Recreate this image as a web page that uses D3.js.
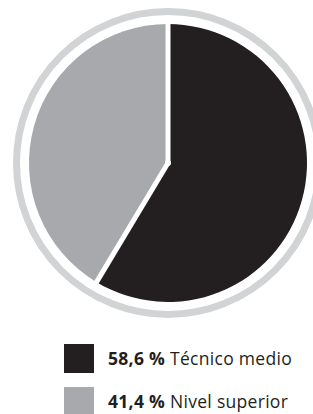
<!DOCTYPE html>
<html><head><meta charset="utf-8">
<script src="https://cdn.jsdelivr.net/npm/d3@7"></script>
<style>html,body{margin:0;padding:0;background:#fff;overflow:hidden}</style>
</head><body><svg id="c" width="313" height="414"></svg>
<script>
const categories = ["Técnico medio", "Nivel superior"];
const values = [58.6, 41.4];
const valueLabels = ["58,6 %", "41,4 %"];
const colors = ["#231f20", "#a7a9ac"];

const svg = d3.select("#c");
const cx = 168, cy = 163, r = 139;
const g = svg.append("g").attr("transform", `translate(${cx},${cy})`);

g.append("circle").attr("r", 151.5).attr("fill", "none")
  .attr("stroke", "#d1d3d4").attr("stroke-width", 7);

const pie = d3.pie().sort(null).value(d => d)(values);
const arc = d3.arc().innerRadius(0).outerRadius(r);
g.selectAll("path.s").data(pie).join("path").attr("class", "s")
  .attr("d", arc).attr("fill", (d, i) => colors[i]);
g.selectAll("line.sep").data(pie).join("line").attr("class", "sep")
  .attr("x1", 0).attr("y1", 0)
  .attr("x2", d => Math.sin(d.startAngle) * (r + 4))
  .attr("y2", d => -Math.cos(d.startAngle) * (r + 4))
  .attr("stroke", "#fff").attr("stroke-width", 5);
g.append("circle").attr("r", 3).attr("fill", "#fff");

const leg = svg.append("g");
const rowY = d3.scalePoint().domain(categories).range([344, 387]);
const row = leg.selectAll("g").data(categories).join("g")
  .attr("transform", d => `translate(64,${rowY(d)})`);
row.append("rect").attr("width", 30).attr("height", 29).attr("fill", (d, i) => colors[i]);
const t = row.append("text").attr("x", 44).attr("y", 21)
  .attr("font-family", "'Open Sans', sans-serif").attr("font-size", 17.5)
  .attr("letter-spacing", 0.3).attr("fill", "#231f20");
t.append("tspan").attr("font-weight", "bold").text((d, i) => valueLabels[i]);
t.append("tspan").text(d => " " + d);
</script></body></html>
